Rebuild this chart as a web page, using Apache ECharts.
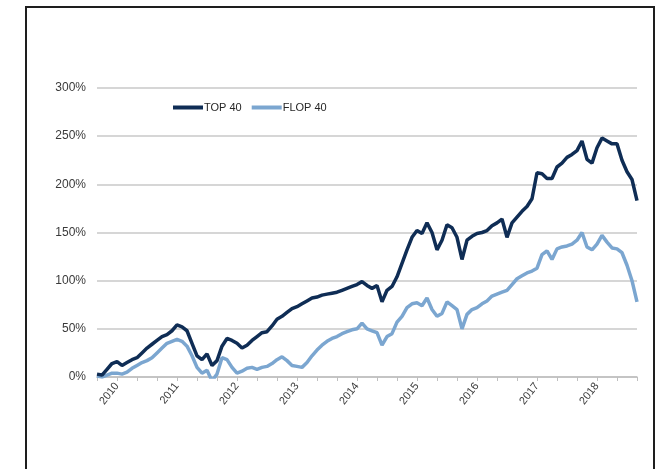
<!DOCTYPE html>
<html>
<head>
<meta charset="utf-8">
<script src="https://cdn.jsdelivr.net/npm/echarts@6/dist/echarts.min.js"></script>
<style>
  html, body { margin: 0; padding: 0; background: #fff; }
  #main { width: 657px; height: 469px; }
</style>
</head>
<body>
<div id="main"></div>
<script>
// monthly points, Sep 2009 .. Sep 2018
var startYear = 2009, startMonth = 9, monthCount = 109;
var months = [];
for (var i = 0; i < monthCount; i++) {
    var m = startMonth - 1 + i;
    var y = startYear + Math.floor(m / 12);
    var mm = (m % 12) + 1;
    months.push(y + '-' + (mm < 10 ? '0' + mm : mm));
}

var yTicks = [0, 50, 100, 150, 200, 250, 300];

var top40 = [
    3, 2, 8, 14, 16, 12, 15, 18, 20, 25, 30, 34,
    38, 42, 44, 48, 54, 52, 48, 35, 22, 18, 24, 12,
    17, 32, 40, 38, 35, 30, 33, 38, 42, 46, 47, 53,
    60, 63, 67, 71, 73, 76, 79, 82, 83, 85, 86, 87,
    88, 90, 92, 94, 96, 99, 95, 92, 95, 78, 90, 94,
    104, 118, 132, 145, 152, 149, 160, 150, 132, 142, 158, 155,
    145, 122, 142, 146, 149, 150, 152, 157, 160, 164, 145, 160,
    166, 172, 177, 185, 212, 211, 206, 206, 218, 222, 228, 231,
    235, 245, 226, 222, 238, 248, 245, 242, 242, 225, 213, 205,
    183
];

var flop40 = [
    1, 0, 2, 4, 4, 3, 5, 9, 12, 15, 17, 20,
    25, 30, 35, 37, 39, 37, 32, 22, 10, 4, 7, -4,
    3, 20, 18, 10, 4, 6, 9, 10, 8, 10, 11, 14,
    18, 21, 17, 12, 11, 10, 15, 22, 28, 33, 37, 40,
    42, 45, 47, 49, 50, 56, 50, 48, 46, 33, 42, 45,
    57, 63, 72, 76, 77, 74, 82, 70, 63, 66, 78, 74,
    70, 50, 65, 70, 72, 76, 79, 84, 86, 88, 90, 96,
    102, 105, 108, 110, 113, 127, 131, 122, 133, 135, 136, 138,
    142, 150, 135, 132, 138, 147, 140, 134, 133, 129, 116, 100,
    78
];

var labelFont = "'Liberation Sans', 'DejaVu Sans', sans-serif";

var myChart = echarts.init(document.getElementById('main'));

var option = {
    backgroundColor: '#fff',
    animation: false,
    graphic: [
        {
            type: 'rect',
            shape: { x: 26, y: 7, width: 628, height: 480 },
            style: { fill: 'none', stroke: '#1e1e1e', lineWidth: 2 },
            silent: true
        }
    ],
    legend: {
        data: ['TOP 40', 'FLOP 40'],
        left: 173,
        top: 102,
        padding: 0,
        icon: 'rect',
        itemWidth: 30,
        itemHeight: 4,
        itemGap: 10,
        textStyle: { fontFamily: labelFont, fontSize: 11, color: '#262626', padding: [0, 0, 0, -4] }
    },
    grid: {
        left: 97,
        right: 20,
        top: 88,
        bottom: 92,
        containLabel: false
    },
    xAxis: {
        type: 'category',
        data: months,
        boundaryGap: false,
        axisLine: { lineStyle: { color: '#bfbfbf', width: 1.5 } },
        axisTick: {
            interval: function (idx) { return idx % 4 === 0; },
            length: 4,
            lineStyle: { color: '#bfbfbf' }
        },
        axisLabel: {
            interval: function (idx, val) { return val.slice(5) === '01'; },
            formatter: function (val) { return val.slice(0, 4); },
            rotate: 52,
            margin: 7,
            fontFamily: labelFont,
            fontSize: 11,
            color: '#3a3a3a'
        },
        splitLine: { show: false }
    },
    yAxis: {
        type: 'value',
        min: yTicks[0],
        max: yTicks[yTicks.length - 1],
        interval: 50,
        axisLine: { show: false },
        axisTick: { show: false },
        axisLabel: {
            formatter: '{value}%',
            margin: 11,
            fontFamily: labelFont,
            fontSize: 12,
            color: '#3a3a3a'
        },
        splitLine: { lineStyle: { color: '#c8c8c8', width: 1.5 } }
    },
    series: [
        {
            name: 'TOP 40',
            type: 'line',
            data: top40,
            showSymbol: false,
            z: 3,
            itemStyle: { color: '#0f2d55' },
            lineStyle: { color: '#0f2d55', width: 3.5 }
        },
        {
            name: 'FLOP 40',
            type: 'line',
            data: flop40,
            showSymbol: false,
            z: 2,
            itemStyle: { color: '#7ba6d0' },
            lineStyle: { color: '#7ba6d0', width: 3.5 }
        }
    ]
};

myChart.setOption(option);
</script>
</body>
</html>
